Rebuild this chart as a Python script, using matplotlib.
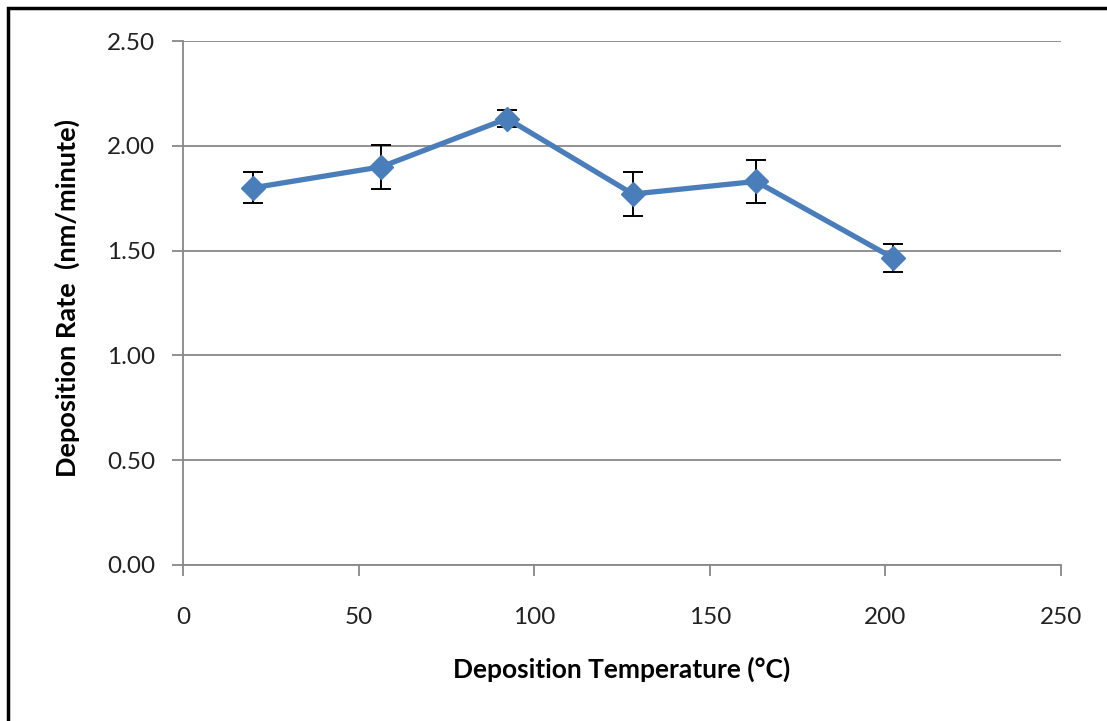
import matplotlib
matplotlib.use("Agg")
import matplotlib.pyplot as plt
from matplotlib.patches import Rectangle

# Dados
temperatura = [20, 56.5, 92.3, 128.1, 163.2, 202.2]
taxa = [1.80, 1.90, 2.13, 1.77, 1.83, 1.465]
erro = [0.075, 0.105, 0.04, 0.105, 0.103, 0.068]
yticks = [0.0, 0.5, 1.0, 1.5, 2.0, 2.5]
xticks = [0, 50, 100, 150, 200, 250]

plt.rcParams["font.family"] = ["Lato", "DejaVu Sans"]

fig = plt.figure(figsize=(11.07, 7.21), dpi=100)
ax = fig.add_axes([0.1653, 0.2164, 0.7931, 0.7267])

cinza = "#888888"
ax.errorbar(temperatura, taxa, yerr=erro, color="#4a7ebb", lw=3.8,
            marker="D", markersize=12, ecolor="black", elinewidth=1.4,
            capsize=7, capthick=1.4, zorder=3)

ax.set_xlim(0, 250)
ax.set_ylim(0, 2.5)
ax.set_xticks(xticks)
ax.set_yticks(yticks)
ax.set_yticklabels([f"{v:.2f}" for v in yticks])
ax.grid(axis="y", color=cinza, lw=1.3)
ax.set_axisbelow(True)
for s in ["top", "right"]:
    ax.spines[s].set_visible(False)
for s in ["left", "bottom"]:
    ax.spines[s].set_color(cinza)
    ax.spines[s].set_linewidth(1.3)
ax.tick_params(axis="both", colors=cinza, length=8, width=1.3,
               labelsize=17.5, labelcolor="#222222")
ax.tick_params(axis="x", pad=22)
ax.tick_params(axis="y", pad=12)

ax.set_xlabel("Deposition Temperature (°C)", fontsize=19, fontweight="bold",
              va="center")
ax.set_ylabel("Deposition Rate  (nm/minute)", fontsize=19.5, fontweight="bold",
              va="center")
ax.xaxis.set_label_coords(0.5, -0.2)
ax.yaxis.set_label_coords(-0.132, 0.51)

# moldura do gráfico (como no Excel)
fig.patches.append(Rectangle((8 / 1107, -0.05), 1.2, (721 - 8) / 721 + 0.05,
                             transform=fig.transFigure, fill=False,
                             ec="black", lw=2.5))

plt.savefig("out.png", dpi=100)
plt.close()
